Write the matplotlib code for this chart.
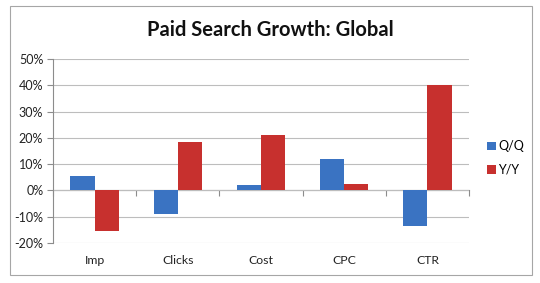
import matplotlib
matplotlib.use("Agg")
import matplotlib.pyplot as plt
import numpy as np
from matplotlib.patches import Rectangle

categories = ["Imp", "Clicks", "Cost", "CPC", "CTR"]
qq = [5.5, -8.9, 1.9, 11.8, -13.4]
yy = [-15.6, 18.3, 21.1, 2.4, 40.0]
series_names = ["Q/Q", "Y/Y"]
yticks = [-20, -10, 0, 10, 20, 30, 40, 50]

plt.rcParams['font.family'] = ['Lato', 'DejaVu Sans']

fig = plt.figure(figsize=(5.4, 2.83), dpi=100)
fig.patch.set_facecolor('white')
fig.patches.append(Rectangle((10/540, 1-275/283), 522/540, 269/283, transform=fig.transFigure,
                             fill=False, edgecolor='#a6a6a6', linewidth=0.8))

ax = fig.add_axes([53/540, 1-243/283, 416/540, 184/283])
x = np.arange(len(categories))
w = 0.29
blue = '#3A73C2'
red = '#C7302E'
ax.bar(x - w/2, qq, w, color=blue, label=series_names[0], zorder=3)
ax.bar(x + w/2, yy, w, color=red, label=series_names[1], zorder=3)

ymin, ymax = -20, 50
ax.set_ylim(ymin, ymax)
ax.set_xlim(-0.5, len(categories) - 0.5)
ax.set_yticks(yticks)
ax.set_yticklabels([f"{v}%" for v in yticks], fontsize=9, color='#222222')
ax.set_xticks(x)
ax.set_xticklabels(categories, fontsize=8.8, color='#222222')
ax.tick_params(axis='x', length=0, pad=9)
ax.tick_params(axis='y', length=4, color='#8c8c8c', width=0.8, pad=3)
ax.grid(axis='y', color='#bdbdbd', linewidth=0.8, zorder=0)
for s in ['top', 'right', 'bottom']:
    ax.spines[s].set_visible(False)
ax.spines['left'].set_color('#8c8c8c')
ax.spines['left'].set_linewidth(0.8)

# category axis at zero
loc = (0 - ymin) / (ymax - ymin)
sec = ax.secondary_xaxis(loc)
sec.set_xticks(np.arange(len(categories) + 1) - 0.5)
sec.set_xticklabels([])
sec.tick_params(length=4, color='#8c8c8c', width=0.8)
sec.spines['bottom'].set_color('#8c8c8c')
sec.spines['bottom'].set_linewidth(0.8)

fig.text(0.5, 1-30/283, "Paid Search Growth: Global", ha='center', va='center',
         fontsize=14.5, fontweight='bold', color='#111111')

fig.legend(loc='center left', bbox_to_anchor=(482/540, 1-158/283), frameon=False,
           fontsize=9, handlelength=0.7, handleheight=0.7, handletextpad=0.2,
           labelspacing=0.9, borderaxespad=0)

fig.savefig("out.png", dpi=100, facecolor='white')
